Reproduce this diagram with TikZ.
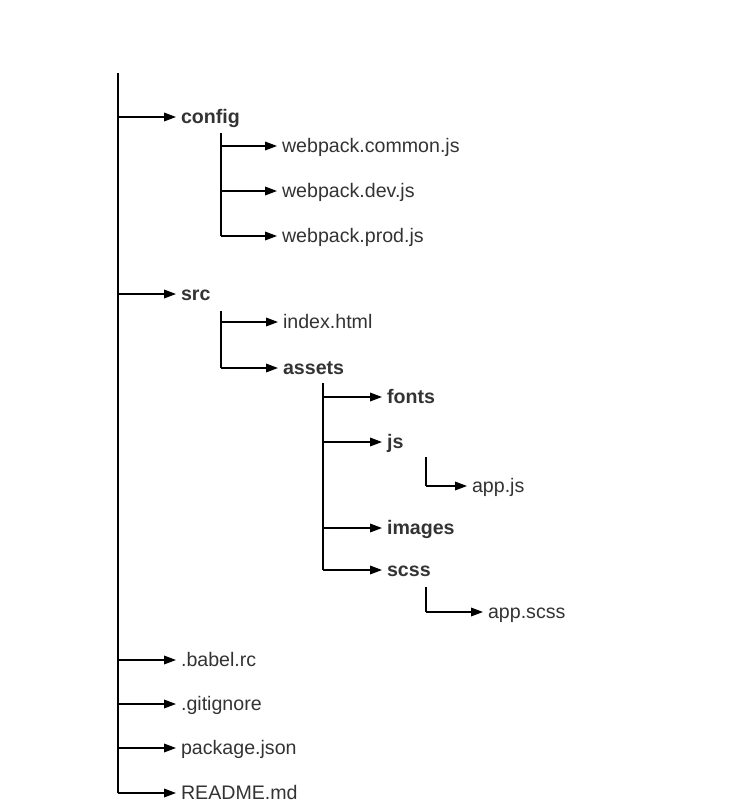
\documentclass[tikz,border=0pt]{standalone}
\usepackage{fontspec}
\setmainfont{Liberation Sans}
\usetikzlibrary{arrows.meta}
\definecolor{label}{HTML}{333333}
\begin{document}
\begin{tikzpicture}[x=0.75pt,y=-0.75pt,
  entry/.style={anchor=west,inner xsep=3.6pt,inner ysep=0pt,text height=10.5pt,text depth=1.5pt,
    font=\fontsize{14.7pt}{17pt}\selectfont,text=label},
  folder/.style={entry,font=\fontsize{14.7pt}{17pt}\selectfont\bfseries},
  branch/.style={line width=1pt,-{Triangle[length=9pt,width=6.5pt]}},
  bar/.style={line width=1pt}]
\useasboundingbox (0,0) rectangle (750,808);

% top level
\coordinate (trunk) at (118,73);
\node[folder] (config) at (176,117) {config};
\node[folder] (src) at (176,294) {src};
\node[entry] (babel) at (176,660) {.babel.rc};
\node[entry] (gitignore) at (176,704) {.gitignore};
\node[entry] (package) at (176,748) {package.json};
\node[entry] (readme) at (176,793) {README.md};

% config/
\coordinate (cfgbar) at (221,133);
\node[entry] (common) at (277,146) {webpack.common.js};
\node[entry] (dev) at (277,191) {webpack.dev.js};
\node[entry] (prod) at (277,236) {webpack.prod.js};

% src/
\coordinate (srcbar) at (221,311);
\node[entry] (index) at (278,322) {index.html};
\node[folder] (assets) at (278,368) {assets};

% src/assets/
\coordinate (assetsbar) at (323,383);
\node[folder] (fonts) at (382,397) {fonts};
\node[folder] (js) at (382,442) {js};
\node[folder] (images) at (382,528) {images};
\node[folder] (scss) at (382,570) {scss};

\coordinate (jsbar) at (426,457);
\node[entry] (appjs) at (467,486) {app.js};
\coordinate (scssbar) at (426,587);
\node[entry] (appscss) at (483,612) {app.scss};

% vertical bars
\draw[bar] (trunk) -- (trunk |- readme.west);
\draw[bar] (cfgbar) -- (cfgbar |- prod.west);
\draw[bar] (srcbar) -- (srcbar |- assets.west);
\draw[bar] (assetsbar) -- (assetsbar |- scss.west);
\draw[bar] (jsbar) -- (jsbar |- appjs.west);
\draw[bar] (scssbar) -- (scssbar |- appscss.west);

% branches
\foreach \n in {config,src,babel,gitignore,package,readme}
  \draw[branch] (trunk |- \n.west) -- (\n.west);
\foreach \n in {common,dev,prod}
  \draw[branch] (cfgbar |- \n.west) -- (\n.west);
\foreach \n in {index,assets}
  \draw[branch] (srcbar |- \n.west) -- (\n.west);
\foreach \n in {fonts,js,images,scss}
  \draw[branch] (assetsbar |- \n.west) -- (\n.west);
\draw[branch] (jsbar |- appjs.west) -- (appjs.west);
\draw[branch] (scssbar |- appscss.west) -- (appscss.west);
\end{tikzpicture}
\end{document}
